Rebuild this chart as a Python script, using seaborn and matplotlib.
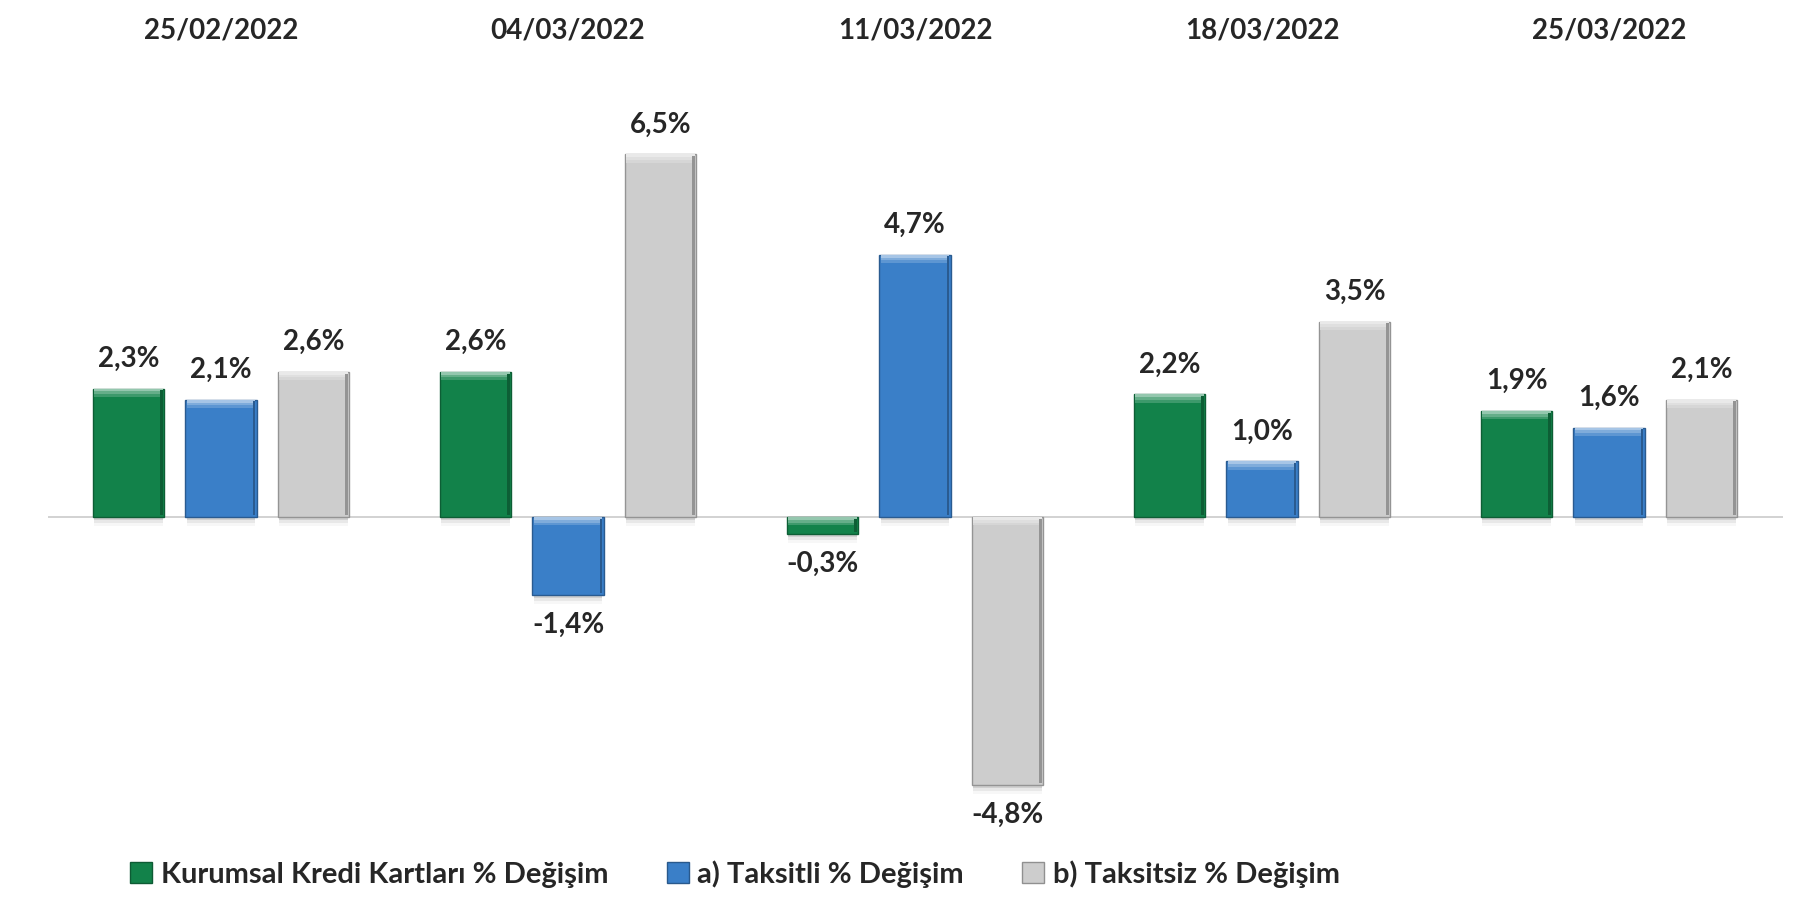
import pandas as pd
import numpy as np
import matplotlib.pyplot as plt
import matplotlib.colors as mcolors
from matplotlib.patches import Rectangle
import seaborn as sns

# data
tarihler = ["25/02/2022", "04/03/2022", "11/03/2022", "18/03/2022", "25/03/2022"]
seriler = ["Kurumsal Kredi Kartları % Değişim", "a) Taksitli % Değişim", "b) Taksitsiz % Değişim"]
kurumsal = [2.3, 2.6, -0.3, 2.2, 1.9]
taksitli = [2.1, -1.4, 4.7, 1.0, 1.6]
taksitsiz = [2.6, 6.5, -4.8, 3.5, 2.1]
renkler = ["#12824a", "#3a7fc8", "#cdcdcd"]

df = pd.DataFrame({
    "tarih": tarihler * 3,
    "seri": [seriler[0]] * 5 + [seriler[1]] * 5 + [seriler[2]] * 5,
    "deger": kurumsal + taksitli + taksitsiz,
})

sns.set_style("white")
plt.rcParams['font.family'] = ['Lato', 'DejaVu Sans']
plt.rcParams['font.weight'] = 'bold'

fig = plt.figure(figsize=(17.93, 9.01), dpi=100)
ax = fig.add_axes([0.0265, 0.0788, 0.9677, 0.8546])

sns.barplot(data=df, x="tarih", y="deger", hue="seri", order=tarihler,
            hue_order=seriler, palette=renkler, width=0.8, gap=0.23,
            saturation=1, legend=False, ax=ax, zorder=3)

ax.set_xlim(-0.5, 4.5)
ax.set_ylim(-5.61, 8.19)
ax.axhline(0, color="#cfcfcf", lw=1.3, zorder=2)

# bevel + shadow look for every bar
bars = list(ax.patches)
for bar in bars:
    x, w, h = bar.get_x(), bar.get_width(), bar.get_height()
    fc = np.array(mcolors.to_rgb(bar.get_facecolor()))
    dark = fc * 0.72
    bar.set_edgecolor(dark)
    bar.set_linewidth(1.0)
    # soft shadow under the bar
    for i, a in enumerate([0.10, 0.06, 0.03]):
        off = 0.06 + i * 0.05
        ax.add_patch(Rectangle((x + 0.004, min(0, h) - off), w - 0.008, abs(h) + off,
                               color="black", alpha=a, lw=0, zorder=1))
    # gradient highlight along the top edge
    top = max(0, h)
    for i, k in enumerate([0.55, 0.35, 0.18]):
        light = fc + (1 - fc) * k
        ax.add_patch(Rectangle((x + 0.004, top - 0.05 - i * 0.05), w - 0.008, 0.05,
                               color=light, lw=0, zorder=4))
    # darker strip along the right edge
    ax.add_patch(Rectangle((x + w - 0.011, min(0, h) + 0.03), 0.007, abs(h) - 0.06,
                           color=dark, lw=0, zorder=4))

# value labels
for bar in bars:
    h = bar.get_height()
    xc = bar.get_x() + bar.get_width() / 2
    txt = f"{h:.1f}".replace(".", ",") + "%"
    if h >= 0:
        ax.text(xc, h + 0.3, txt, ha="center", va="bottom", fontsize=20, fontweight="bold")
    else:
        ax.text(xc, h - 0.3, txt, ha="center", va="top", fontsize=20, fontweight="bold")

ax.xaxis.tick_top()
ax.tick_params(axis="x", length=0, pad=12, labelsize=20)
for lab in ax.get_xticklabels():
    lab.set_fontweight("bold")
ax.set_xlabel("")
ax.set_ylabel("")
ax.set_yticks([])
sns.despine(ax=ax, left=True, bottom=True, top=True, right=True)

handles = [Rectangle((0, 0), 1, 1, facecolor=c, edgecolor=np.array(mcolors.to_rgb(c)) * 0.7)
           for c in renkler]
fig.legend(handles, seriler, loc="center", bbox_to_anchor=(0.41, 0.03), ncol=3,
           frameon=False, handlelength=0.75, handleheight=0.75,
           handletextpad=0.3, columnspacing=2.0, prop={"weight": "bold", "size": 21})

fig.savefig("out.png", dpi=100)
